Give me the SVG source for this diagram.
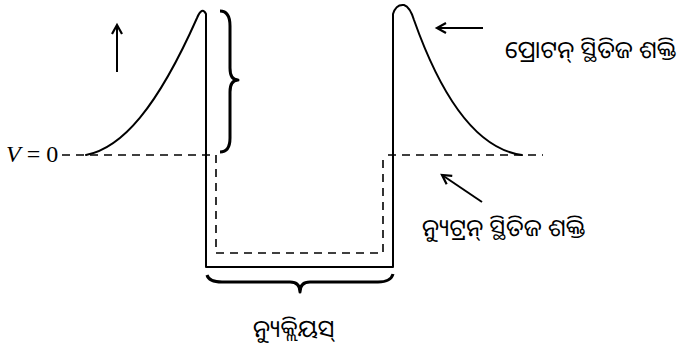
<svg xmlns="http://www.w3.org/2000/svg" width="686" height="350" viewBox="0 0 686 350">
<style>
.solid{fill:none;stroke:#000;stroke-width:2;stroke-linejoin:round;stroke-linecap:round}
.dash{fill:none;stroke:#000;stroke-width:1.6;stroke-dasharray:8 6}
.brace{fill:none;stroke:#000;stroke-width:3;stroke-linejoin:round}
.arr{fill:none;stroke:#000;stroke-width:2}
.od{font-family:"Noto Sans Oriya","Noto Sans Odia","Lohit Odia","Noto Sans",sans-serif;font-size:24px;fill:#000}
.v{font-family:"Liberation Serif",serif;font-size:24px;fill:#000}
</style>
<defs>
<marker id="ah" markerWidth="14" markerHeight="14" refX="11" refY="6" orient="auto" markerUnits="userSpaceOnUse">
<path d="M2,1 L11,6 L2,11" fill="none" stroke="#000" stroke-width="2.2"/>
</marker>
</defs>
<g id="potential">
<path class="solid" d="M86,155 C122,148 157,108 197,18 Q202,6 206,14 L206,267 L393,267 L393,14 Q396,4 404,5 Q410,7 414,20 C436,82 470,148 522,155"/>
<path class="dash" d="M62,155 L216,155 L216,253 L383,253 L383,158"/>
<path class="dash" d="M388,155 L543,155"/>
</g>
<g id="v0">
<text class="v" x="6" y="162"><tspan font-style="italic">V</tspan> = 0</text>
</g>
<g id="braces">
<path class="brace" d="M220,11 Q230,11 230,26 L230,68 Q230,80 238,80 Q230,80 230,92 L230,138 Q230,152 220,152"/>
<path class="brace" d="M207,275 Q209,282 222,282 L290,282 Q300,282 300,292 Q300,282 310,282 L378,282 Q391,282 393,274"/>
</g>
<g id="connectors">
<path class="arr" d="M117,72 L117,25" marker-end="url(#ah)"/>
<path class="arr" d="M483,28 L437,28" marker-end="url(#ah)"/>
<path class="arr" d="M482,202 L442,175" marker-end="url(#ah)"/>
</g>
<g id="proton-label"><text class="od" x="505" y="58">ପ୍ରୋଟନ୍ ସ୍ଥିତିଜ ଶକ୍ତି</text></g>
<g id="neutron-label"><text class="od" x="422" y="236">ନ୍ୟୁଟ୍ରନ୍ ସ୍ଥିତିଜ ଶକ୍ତି</text></g>
<g id="nucleus-label"><text class="od" x="253" y="337" font-size="23">ନ୍ୟୁକ୍ଲିୟସ୍</text></g>
</svg>
